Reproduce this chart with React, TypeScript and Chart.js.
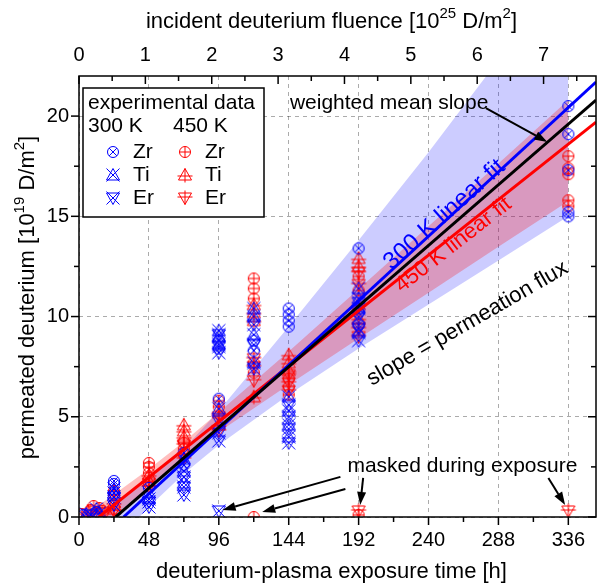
import React, { useEffect, useRef } from 'react';
import { Chart, registerables } from 'chart.js';

Chart.register(...registerables);

const FONT = "'Liberation Sans', Arial, Helvetica, sans-serif";
const BLUE = '#0000ff';
const RED = '#ff0000';
const GRID = 'rgba(0,0,0,0.33)';

const X_MAX = 355;
const Y_MAX = 22;
const TOP_MAX = 7.79;

const xTicks = [0, 48, 96, 144, 192, 240, 288, 336];
const xMinorTicks = [24, 72, 120, 168, 216, 264, 312];
const yTicks = [0, 5, 10, 15, 20];
const yMinorTicks = [2.5, 7.5, 12.5, 17.5];
const topTicks = [0, 1, 2, 3, 4, 5, 6, 7];
const topMinorTicks = [0.5, 1.5, 2.5, 3.5, 4.5, 5.5, 6.5, 7.5];

// experimental data [time h, permeated deuterium 1e19 D/m2]
const zr300 = [[3, 0.1], [12, 0.25], [24, 1.8], [24, 1.65], [48, 1.45], [72, 3.2], [72, 2.6], [96, 8.8], [96, 8.4], [96, 5.9], [120, 8.8], [120, 8.3], [144, 10.4], [144, 10.1], [144, 9.8], [144, 9.5], [192, 13.4], [192, 10.2], [192, 9.6], [336, 20.5], [336, 19.1], [336, 17.3], [336, 15.2], [336, 15.0]];
const ti300 = [[5, 0.15], [12, 0.4], [14, 0.2], [24, 1.4], [24, 1.2], [48, 1.2], [48, 0.9], [72, 2.9], [72, 2.3], [72, 1.7], [96, 9.3], [96, 9.0], [96, 8.6], [96, 5.4], [120, 10.4], [120, 10.0], [120, 9.1], [120, 7.7], [144, 6.0], [144, 5.3], [144, 4.6], [144, 4.0], [192, 11.4], [192, 10.9], [192, 10.4], [192, 9.2]];
const er300 = [[8, 0.1], [24, 1.0], [24, 0.6], [48, 0.75], [48, 0.5], [72, 2.0], [72, 1.5], [72, 1.1], [96, 9.1], [96, 8.5], [96, 8.2], [96, 4.8], [96, 4.2], [96, 3.8], [96, 0.3], [120, 9.6], [120, 8.6], [120, 7.4], [144, 5.6], [144, 5.0], [144, 4.4], [144, 3.7], [192, 10.7], [192, 10.0], [192, 9.4], [192, 8.8]];
const zr450 = [[2, 0.15], [8, 0.35], [10, 0.55], [12, 0.2], [14, 0.45], [16, 0.3], [24, 1.3], [24, 1.1], [48, 2.7], [48, 2.5], [48, 2.2], [72, 3.7], [72, 3.4], [72, 3.1], [96, 5.8], [96, 5.5], [120, 11.9], [120, 11.4], [120, 10.9], [120, 7.7], [120, 7.2], [120, 0.0], [144, 6.9], [144, 6.5], [144, 6.1], [192, 12.0], [192, 11.3], [192, 0.1], [336, 18.0], [336, 17.4], [336, 17.1], [336, 15.8], [336, 15.5]];
const ti450 = [[6, 0.3], [24, 0.7], [24, 0.4], [48, 2.1], [48, 1.8], [72, 4.6], [72, 4.3], [72, 4.0], [96, 5.2], [96, 4.6], [120, 10.6], [120, 10.2], [120, 9.8], [120, 6.0], [144, 8.1], [144, 7.7], [144, 7.3], [192, 12.9], [192, 12.5], [192, 10.6], [192, 9.9]];
const er450 = [[18, 0.2], [24, 0.3], [48, 1.7], [48, 1.5], [72, 3.6], [72, 2.9], [96, 5.0], [96, 4.3], [120, 7.9], [120, 7.5], [120, 6.8], [144, 7.1], [144, 6.7], [144, 6.3], [192, 12.2], [192, 11.6], [192, 9.4], [192, 9.0], [192, 0.3], [336, 0.3]];

// linear fits (end points)
const fit300 = [[30.6, 0], [355, 21.7]];
const fitMean = [[25.2, 0], [355, 20.8]];
const fit450 = [[13.6, 0], [355, 19.7]];

// confidence bands
const bandX = [0, 24, 48, 72, 96, 144, 192, 240, 288, 336];
const band300Upper = [-0.56, 0.61, 1.86, 3.39, 5.3, 9.5, 13.8, 18.2, 22.8, 27.5];
const band300Lower = [-3.28, -1.34, 0.5, 2.16, 3.59, 6.1, 8.4, 10.6, 12.8, 15.0];
const band450Upper = [-0.12, 1.12, 2.4, 3.76, 5.22, 8.26, 11.38, 14.51, 17.64, 20.8];
const band450Lower = [-1.56, 0.02, 1.54, 2.95, 4.24, 6.6, 8.91, 11.19, 13.48, 15.75];

const toXY = (arr: number[][]) => arr.map(([x, y]) => ({ x, y }));
const bandXY = (ys: number[]) => bandX.map((x, i) => ({ x, y: ys[i] }));

function makeMarker(shape: string, inner: string, color: string) {
  const c = document.createElement('canvas');
  c.width = 18;
  c.height = 18;
  const g = c.getContext('2d') as CanvasRenderingContext2D;
  g.strokeStyle = color;
  g.lineWidth = 1;
  const m = 9;
  g.beginPath();
  if (shape === 'circle') {
    g.arc(m, m, 5.5, 0, Math.PI * 2);
  } else if (shape === 'up') {
    g.moveTo(m, m - 6.5); g.lineTo(m + 6.5, m + 5); g.lineTo(m - 6.5, m + 5); g.closePath();
  } else {
    g.moveTo(m, m + 6.5); g.lineTo(m + 6.5, m - 5); g.lineTo(m - 6.5, m - 5); g.closePath();
  }
  g.stroke();
  g.beginPath();
  if (inner === 'x') {
    const d = shape === 'circle' ? 3.9 : 6.5;
    g.moveTo(m - d, m - d); g.lineTo(m + d, m + d);
    g.moveTo(m + d, m - d); g.lineTo(m - d, m + d);
  } else {
    if (shape === 'circle') {
      g.moveTo(m - 5.5, m); g.lineTo(m + 5.5, m);
      g.moveTo(m, m - 5.5); g.lineTo(m, m + 5.5);
    } else if (shape === 'up') {
      g.moveTo(m, m - 6.5); g.lineTo(m, m + 7.5);
      g.moveTo(m - 7.5, m + 1); g.lineTo(m + 7.5, m + 1);
    } else {
      g.moveTo(m, m - 7.5); g.lineTo(m, m + 6.5);
      g.moveTo(m - 7.5, m - 1); g.lineTo(m + 7.5, m - 1);
    }
  }
  g.stroke();
  return c;
}

function richText(ctx: CanvasRenderingContext2D, parts: [string, boolean][], x: number, y: number, size: number) {
  const supSize = Math.round(size * 0.68);
  let total = 0;
  const widths = parts.map(([t, sup]) => {
    ctx.font = `${sup ? supSize : size}px ${FONT}`;
    const w = ctx.measureText(t).width;
    total += w;
    return w;
  });
  let cx = x - total / 2;
  ctx.textAlign = 'left';
  ctx.textBaseline = 'middle';
  parts.forEach(([t, sup], i) => {
    ctx.font = `${sup ? supSize : size}px ${FONT}`;
    ctx.fillText(t, cx, sup ? y - size * 0.38 : y);
    cx += widths[i];
  });
}

function arrow(ctx: CanvasRenderingContext2D, x1: number, y1: number, x2: number, y2: number) {
  const head = 13, w = 4.5;
  const ang = Math.atan2(y2 - y1, x2 - x1);
  const bx = x2 - head * Math.cos(ang), by = y2 - head * Math.sin(ang);
  ctx.beginPath(); ctx.moveTo(x1, y1); ctx.lineTo(bx, by); ctx.stroke();
  ctx.beginPath();
  ctx.moveTo(x2, y2);
  ctx.lineTo(bx + w * Math.sin(ang), by - w * Math.cos(ang));
  ctx.lineTo(bx - w * Math.sin(ang), by + w * Math.cos(ang));
  ctx.closePath(); ctx.fill();
}

export default function App() {
  const ref = useRef<HTMLCanvasElement | null>(null);

  useEffect(() => {
    document.body.style.margin = '0';
    const canvas = ref.current;
    if (!canvas) return;

    const mk = {
      zr300: makeMarker('circle', 'x', BLUE),
      ti300: makeMarker('up', 'x', BLUE),
      er300: makeMarker('down', 'x', BLUE),
      zr450: makeMarker('circle', '+', RED),
      ti450: makeMarker('up', '+', RED),
      er450: makeMarker('down', '+', RED),
    };

    const decor = {
      id: 'decor',
      afterDraw(chart: any) {
        const { ctx, chartArea: a, scales } = chart;
        const sx = scales.x, sy = scales.y, sx2 = scales.x2;
        const px = (v: number) => sx.getPixelForValue(v);
        const py = (v: number) => sy.getPixelForValue(v);
        ctx.save();
        ctx.strokeStyle = '#000';
        ctx.fillStyle = '#000';
        ctx.lineWidth = 1.5;
        ctx.strokeRect(a.left, a.top, a.right - a.left, a.bottom - a.top);
        const tick = (x1: number, y1: number, x2: number, y2: number) => {
          ctx.beginPath(); ctx.moveTo(x1, y1); ctx.lineTo(x2, y2); ctx.stroke();
        };
        xTicks.forEach((v) => tick(px(v), a.bottom, px(v), a.bottom + 8));
        xMinorTicks.forEach((v) => tick(px(v), a.bottom, px(v), a.bottom + 5));
        yTicks.forEach((v) => { tick(a.left - 8, py(v), a.left, py(v)); tick(a.right - 8, py(v), a.right, py(v)); });
        yMinorTicks.forEach((v) => { tick(a.left - 5, py(v), a.left, py(v)); tick(a.right - 5, py(v), a.right, py(v)); });
        topTicks.forEach((v) => { const p = sx2.getPixelForValue(v); tick(p, a.top, p, a.top + 8); });
        topMinorTicks.forEach((v) => { const p = sx2.getPixelForValue(v); tick(p, a.top, p, a.top + 5); });

        // axis titles
        const cxMid = (a.left + a.right) / 2 - 6;
        richText(ctx, [['deuterium-plasma exposure time [h]', false]], cxMid, a.bottom + 55, 22);
        richText(ctx, [['incident deuterium fluence [10', false], ['25', true], [' D/m', false], ['2', true], [']', false]], cxMid, a.top - 54, 22);
        ctx.save();
        ctx.translate(a.left - 51, (a.top + a.bottom) / 2 + 1);
        ctx.rotate(-Math.PI / 2);
        richText(ctx, [['permeated deuterium [10', false], ['19', true], [' D/m', false], ['2', true], [']', false]], 0, 0, 22);
        ctx.restore();

        // annotations
        ctx.font = `21px ${FONT}`;
        ctx.textAlign = 'left';
        ctx.textBaseline = 'middle';
        ctx.fillStyle = '#000';
        ctx.fillText('weighted mean slope', px(144.8), py(20.65));
        ctx.lineWidth = 2;
        arrow(ctx, px(279.4), py(20.4), px(321.6), py(18.71));
        ctx.fillText('masked during exposure', px(184.3), py(2.54));
        arrow(ctx, px(179.5), py(2.0), px(98.6), py(0.35));
        arrow(ctx, px(182.9), py(1.4), px(125.8), py(0.25));
        arrow(ctx, px(195.1), py(1.95), px(193.1), py(0.6));
        arrow(ctx, px(322.3), py(1.95), px(333.8), py(0.6));

        const rotText = (t: string, x: number, y: number, deg: number, color: string, size: number) => {
          ctx.save();
          ctx.translate(x, y);
          ctx.rotate((-deg * Math.PI) / 180);
          ctx.fillStyle = color;
          ctx.font = `${size}px ${FONT}`;
          ctx.textAlign = 'left';
          ctx.textBaseline = 'alphabetic';
          ctx.fillText(t, 0, 0);
          ctx.restore();
        };
        rotText('300 K linear fit', px(214.5), py(12.3), 41.5, BLUE, 24);
        rotText('450 K linear fit', px(221.6), py(11.17), 38, RED, 22);
        rotText('slope = permeation flux', px(201), py(6.54), 30, '#000', 22);

        // legend box
        const lx = a.left + 4, ly = a.top + 12, lw = 181, lh = 129;
        ctx.fillStyle = '#fff';
        ctx.fillRect(lx, ly, lw, lh);
        ctx.strokeStyle = '#000';
        ctx.lineWidth = 1.5;
        ctx.strokeRect(lx, ly, lw, lh);
        ctx.fillStyle = '#000';
        ctx.font = `21px ${FONT}`;
        ctx.textBaseline = 'middle';
        ctx.fillText('experimental data', lx + 5, ly + 15);
        ctx.fillText('300 K', lx + 5, ly + 38);
        ctx.fillText('450 K', lx + 90, ly + 38);
        const rows: [string, any, any][] = [['Zr', mk.zr300, mk.zr450], ['Ti', mk.ti300, mk.ti450], ['Er', mk.er300, mk.er450]];
        rows.forEach(([label, m3, m4], i) => {
          const ry = ly + 64 + i * 23;
          ctx.drawImage(m3, lx + 30 - 9, Math.round(ry) - 9);
          ctx.drawImage(m4, lx + 102 - 9, Math.round(ry) - 9);
          ctx.fillText(label, lx + 50, ry);
          ctx.fillText(label, lx + 122, ry);
        });
        ctx.restore();
      },
    };

    const markerDs = (data: number[][], img: any) => ({
      data: toXY(data),
      pointStyle: img,
      pointRadius: 6,
      showLine: false,
      order: 3,
    });
    const lineDs = (data: number[][], color: string, order: number) => ({
      data: toXY(data),
      showLine: true,
      borderColor: color,
      borderWidth: 3,
      pointRadius: 0,
      fill: false,
      order,
    });

    const chart = new Chart(canvas, {
      type: 'scatter',
      data: {
        datasets: [
          { data: bandXY(band450Upper), showLine: true, borderWidth: 0, pointRadius: 0, backgroundColor: 'rgba(255,0,0,0.25)', fill: '+1', order: 5 },
          { data: bandXY(band450Lower), showLine: true, borderWidth: 0, pointRadius: 0, fill: false, order: 5 },
          { data: bandXY(band300Upper), showLine: true, borderWidth: 0, pointRadius: 0, backgroundColor: 'rgba(0,0,255,0.2)', fill: '+1', order: 6 },
          { data: bandXY(band300Lower), showLine: true, borderWidth: 0, pointRadius: 0, fill: false, order: 6 },
          markerDs(zr300, mk.zr300),
          markerDs(ti300, mk.ti300),
          markerDs(er300, mk.er300),
          markerDs(zr450, mk.zr450),
          markerDs(ti450, mk.ti450),
          markerDs(er450, mk.er450),
          lineDs(fit300, BLUE, 2),
          lineDs(fit450, RED, 2),
          lineDs(fitMean, '#000', 1),
        ] as any,
      },
      options: {
        animation: false,
        responsive: false,
        devicePixelRatio: 1,
        layout: { padding: { left: 0, right: 2, top: 0, bottom: 0 } },
        plugins: { legend: { display: false }, tooltip: { enabled: false } },
        scales: {
          x: {
            type: 'linear', position: 'bottom', min: 0, max: X_MAX,
            afterBuildTicks: (s: any) => { s.ticks = xTicks.map((v) => ({ value: v })); },
            afterFit: (s: any) => { s.height = 70; },
            grid: { color: GRID, drawTicks: false, lineWidth: 1 },
            border: { display: false, dash: [4, 4] },
            ticks: { padding: 11, font: { size: 20, family: FONT }, color: '#000', maxRotation: 0, autoSkip: false },
          },
          x2: {
            type: 'linear', position: 'top', min: 0, max: TOP_MAX,
            afterBuildTicks: (s: any) => { s.ticks = topTicks.map((v) => ({ value: v })); },
            afterFit: (s: any) => { s.height = 76; },
            grid: { display: false, drawTicks: false },
            border: { display: false },
            ticks: { padding: 9, font: { size: 20, family: FONT }, color: '#000', maxRotation: 0, autoSkip: false },
          },
          y: {
            type: 'linear', position: 'left', min: 0, max: Y_MAX,
            afterBuildTicks: (s: any) => { s.ticks = yTicks.map((v) => ({ value: v })); },
            afterFit: (s: any) => { s.width = 79; },
            grid: { color: GRID, drawTicks: false, lineWidth: 1 },
            border: { display: false, dash: [4, 4] },
            ticks: { padding: 10, font: { size: 20, family: FONT }, color: '#000', autoSkip: false },
          },
        },
      } as any,
      plugins: [decor],
    });
    return () => chart.destroy();
  }, []);

  return (
    <div style={{ width: 603, height: 587 }}>
      <canvas ref={ref} width={603} height={587} style={{ display: 'block' }} />
    </div>
  );
}
